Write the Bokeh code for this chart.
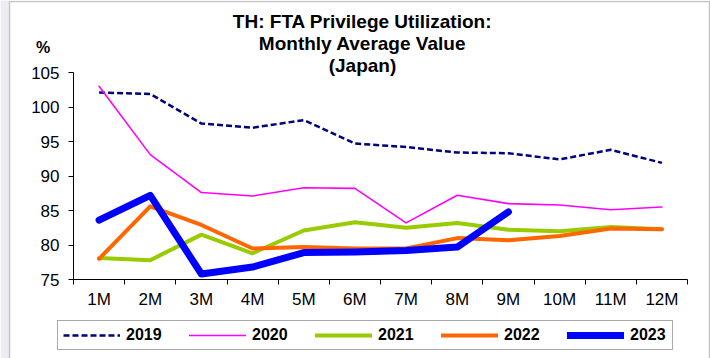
from bokeh.plotting import figure
from bokeh.models import FixedTicker, Label, Legend, LegendItem, Range1d, BoxAnnotation
from bokeh.embed import file_html
from bokeh.resources import INLINE

months = ["1M", "2M", "3M", "4M", "5M", "6M", "7M", "8M", "9M", "10M", "11M", "12M"]
y2019 = [102.1, 101.9, 97.6, 97.0, 98.1, 94.7, 94.2, 93.4, 93.3, 92.4, 93.8, 91.9]
y2020 = [103.0, 93.1, 87.6, 87.1, 88.3, 88.2, 83.2, 87.2, 86.0, 85.8, 85.1, 85.5]
y2021 = [78.1, 77.8, 81.5, 78.8, 82.1, 83.3, 82.5, 83.2, 82.2, 82.0, 82.6, 82.3]
y2022 = [78.0, 85.6, 82.9, 79.5, 79.7, 79.5, 79.5, 81.0, 80.7, 81.3, 82.4, 82.3]
y2023 = [83.6, 87.2, 75.8, 76.8, 78.9, 79.0, 79.2, 79.7, 84.8]
y_ticks = [75, 80, 85, 90, 95, 100, 105]
title_lines = ["TH: FTA Privilege Utilization:", "Monthly Average Value", "(Japan)"]

FONT = "Liberation Sans"
W, H = 710, 358
# plot-area placement in pixels
FL, FR, FT, FB = 73, 687, 72, 279
n = len(months)
ymin, ymax = 75, 105
xppu = (FR - FL) / n
yppu = (FB - FT) / (ymax - ymin)

p = figure(width=W, height=H, output_backend="svg", toolbar_location=None,
           x_range=Range1d(0 - FL / xppu, n + (W - FR) / xppu),
           y_range=Range1d(ymin - (H - FB) / yppu, ymax + FT / yppu),
           min_border=0)
p.outline_line_color = None
p.xgrid.visible = False
p.ygrid.visible = False
p.background_fill_color = "white"
p.border_fill_color = "white"

# chart frame and left strip
p.add_layout(BoxAnnotation(left=0, right=8, top=H, bottom=0,
                           left_units="screen", right_units="screen",
                           top_units="screen", bottom_units="screen",
                           fill_color="#ececf3", fill_alpha=1, line_color=None,
                           level="underlay"))
p.add_layout(BoxAnnotation(left=9, right=709, top=H - 1, bottom=-5,
                           left_units="screen", right_units="screen",
                           top_units="screen", bottom_units="screen",
                           fill_alpha=0, line_color="#404040", line_width=1.5,
                           level="underlay"))

xs = [i + 0.5 for i in range(n)]

series = [
    ("2019", y2019, "#000080", 2.5, "6 3"),
    ("2020", y2020, "#FF00FF", 1.6, "solid"),
    ("2021", y2021, "#99CC00", 4, "solid"),
    ("2022", y2022, "#FF6600", 4, "solid"),
    ("2023", y2023, "#0000FF", 7, "solid"),
]
items = []
for name, ys, color, w, dash in series:
    r = p.line(xs[:len(ys)], ys, line_color=color, line_width=w, line_dash=dash,
               line_join="round", line_cap="round" if dash == "solid" else "butt")
    items.append(LegendItem(label=name, renderers=[r]))

# axes
xa = p.xaxis[0]
xa.fixed_location = ymin
xa.bounds = (0, n)
xa.ticker = FixedTicker(ticks=xs, minor_ticks=list(range(n + 1)))
xa.major_label_overrides = {x: m for x, m in zip(xs, months)}
xa.major_tick_line_color = None
xa.minor_tick_in = 0
xa.minor_tick_out = 5
xa.minor_tick_line_color = "black"
xa.axis_line_color = "black"
xa.major_label_text_font = FONT
xa.major_label_text_font_size = "17px"
xa.major_label_text_color = "black"
xa.major_label_standoff = 4

ya = p.yaxis[0]
ya.fixed_location = 0
ya.bounds = (ymin, ymax)
ya.ticker = FixedTicker(ticks=y_ticks, minor_ticks=[])
ya.major_tick_in = 0
ya.major_tick_out = 5
ya.major_tick_line_color = "black"
ya.axis_line_color = "black"
ya.major_label_text_font = FONT
ya.major_label_text_font_size = "17px"
ya.major_label_text_color = "black"
ya.major_label_standoff = 9

# title & unit (screen px from bottom-left)
for text, yy in zip(title_lines, [21, 43, 64.5]):
    p.add_layout(Label(x=362, y=H - yy, x_units="screen", y_units="screen", text=text,
                       text_align="center", text_baseline="middle", text_font=FONT,
                       text_font_size="19px", text_font_style="bold", text_color="black"))
p.add_layout(Label(x=42.5, y=H - 47, x_units="screen", y_units="screen", text="%",
                   text_align="center", text_baseline="middle", text_font=FONT,
                   text_font_size="16px", text_font_style="bold", text_color="black"))

legend = Legend(items=items, orientation="horizontal", location=(57, H - 350),
                glyph_width=57, glyph_height=16, label_standoff=6, spacing=26,
                label_width=37, padding=5, margin=0,
                label_text_font=FONT, label_text_font_size="16px",
                label_text_font_style="bold", label_text_color="black",
                border_line_color="#555555", border_line_width=1.5,
                background_fill_color="white", background_fill_alpha=1)
p.add_layout(legend, "center")

open("out.html", "w").write(file_html(p, INLINE))
